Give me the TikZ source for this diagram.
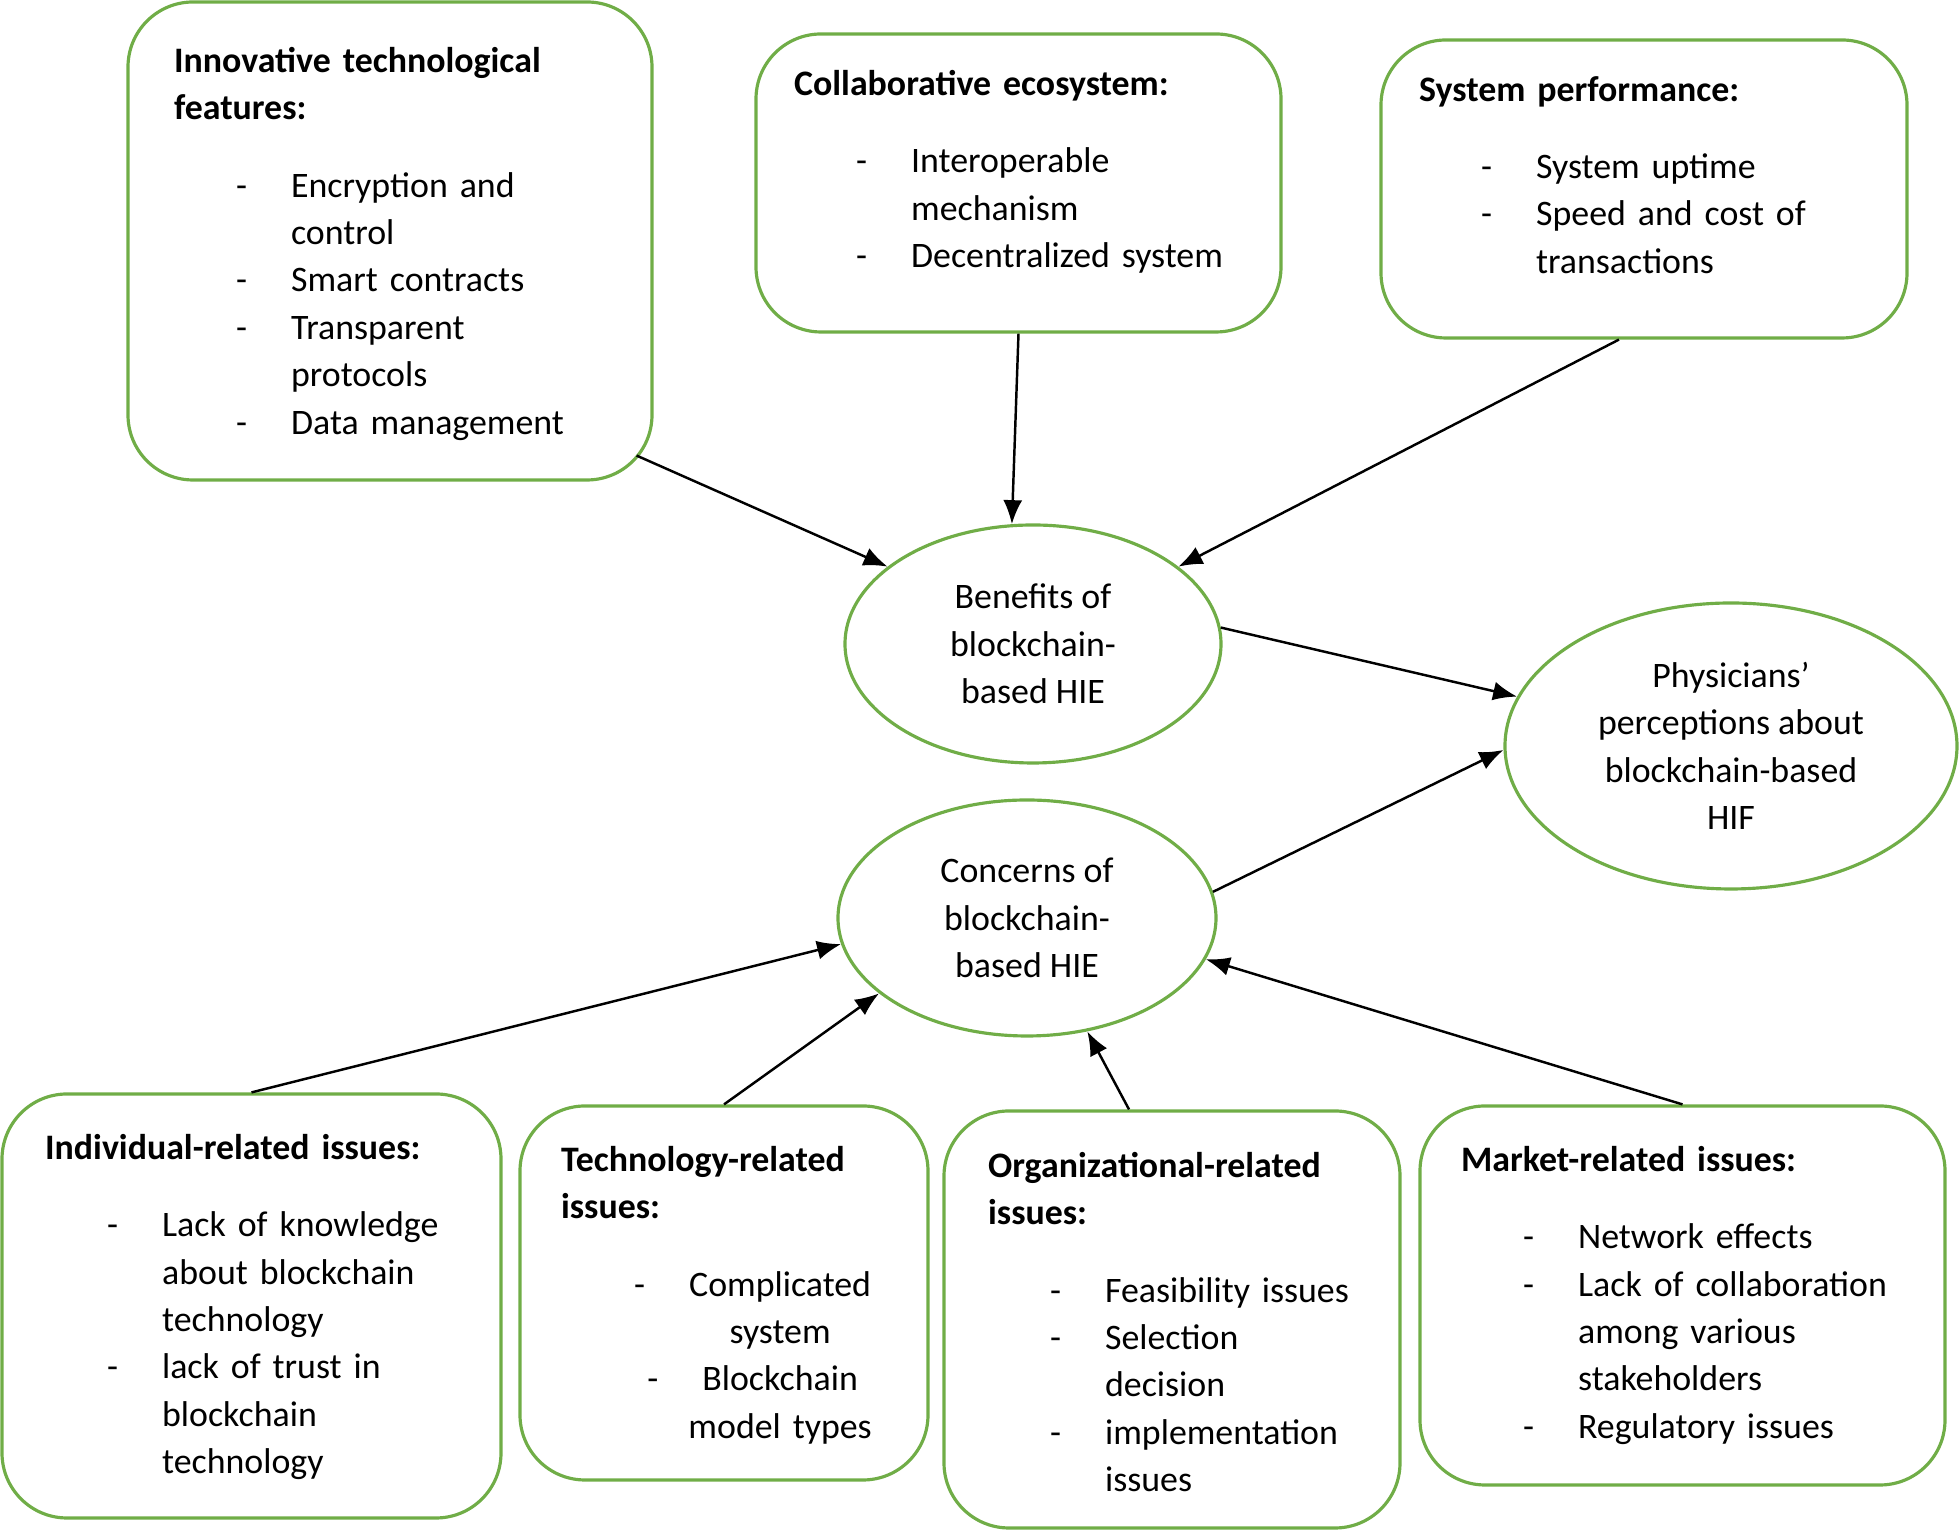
\documentclass[tikz,border=0pt]{standalone}
\usepackage{fontspec}
\setmainfont{Carlito}
\usetikzlibrary{shapes.geometric,arrows.meta}
\definecolor{leafgreen}{RGB}{112,173,71}
\newlength\itmskip
\setlength\itmskip{1.17cm}
\newcommand\hd[1]{\textbf{#1}\par\vspace{8.5pt}}
\newcommand\itm[1]{\par{\leftskip=\itmskip\noindent\llap{\makebox[0.55cm][l]{-}}#1\par}}
\newcommand\ctr[1]{\leavevmode\llap{\makebox[0.55cm][l]{-}}#1}
\begin{document}
\begin{tikzpicture}[font=\fontsize{10.2}{13.5}\selectfont,
    box/.style={draw=leafgreen, line width=0.9pt, rounded corners=0.65cm, inner sep=0pt},
    txt/.style={anchor=north west, inner sep=0pt, text width=#1, align=left},
    oval/.style={ellipse, draw=leafgreen, line width=0.9pt, inner sep=0pt, align=center},
    link/.style={-{Latex[length=2.4mm,width=1.9mm]}, line width=0.7pt}]
  \useasboundingbox (0,0) rectangle (19.59,15.30);

  \node[box, minimum width=5.24cm, minimum height=4.78cm] (innov) at (3.90,12.89) {};
  \node[txt=4.9cm] (innovtxt) at ([shift={(0.47,-0.46)}]innov.north west)
    {\hd{Innovative technological\\features:}\itm{Encryption and\\control}\itm{Smart contracts}\itm{Transparent\\protocols}\itm{Data management}};

  \node[box, minimum width=5.25cm, minimum height=2.98cm] (collab) at (10.185,13.47) {};
  \node[txt=4.8cm] (collabtxt) at ([shift={(0.39,-0.37)}]collab.north west)
    {\hd{Collaborative ecosystem:}\itm{Interoperable\\mechanism}\itm{Decentralized system}};

  \node[box, minimum width=5.26cm, minimum height=2.98cm] (perf) at (16.44,13.41) {};
  \node[txt=4.8cm] (perftxt) at ([shift={(0.39,-0.37)}]perf.north west)
    {\hd{System performance:}\itm{System uptime}\itm{Speed and cost of\\transactions}};

  \node[oval, minimum width=3.76cm, minimum height=2.38cm] (ben) at (10.33,8.86) {Benefits of\\blockchain-\\based HIE};
  \node[oval, minimum width=4.52cm, minimum height=2.86cm] (phys) at (17.31,7.84) {Physicians’\\perceptions about\\blockchain-based\\HIF};
  \node[oval, minimum width=3.78cm, minimum height=2.36cm] (conc) at (10.27,6.12) {Concerns of\\blockchain-\\based HIE};

  \node[box, minimum width=4.99cm, minimum height=4.24cm] (indiv) at (2.515,2.24) {};
  \node[txt=4.5cm] (indivtxt) at ([shift={(0.44,-0.41)}]indiv.north west)
    {\hd{Individual-related issues:}\itm{Lack of knowledge\\about blockchain\\technology}\itm{lack of trust in\\blockchain\\technology}};

  \node[box, minimum width=4.08cm, minimum height=3.74cm] (tech) at (7.24,2.37) {};
  \node[txt=4.38cm] (techtxt) at ([shift={(0.42,-0.41)}]tech.north west)
    {\hd{Technology-related\\issues:}{\centering\ctr{Complicated}\\system\\\ctr{Blockchain}\\model types\par}};

  \node[box, minimum width=4.56cm, minimum height=4.17cm] (org) at (11.72,2.105) {};
  \node[txt=4.1cm] (orgtxt) at ([shift={(0.45,-0.42)}]org.north west)
    {\hd{Organizational-related\\issues:}\itm{Feasibility issues}\itm{Selection\\decision}\itm{implementation\\issues}};

  \node[box, minimum width=5.25cm, minimum height=3.79cm] (mkt) at (16.825,2.345) {};
  \node[txt=4.8cm] (mkttxt) at ([shift={(0.42,-0.41)}]mkt.north west)
    {\hd{Market-related issues:}\itm{Network effects}\itm{Lack of collaboration\\among various\\stakeholders}\itm{Regulatory issues}};

  \draw[link] ([shift={(-0.17,0.26)}]innov.south east) -- (ben.152);
  \draw[link] (collab.south) -- (ben.100);
  \draw[link] ([xshift=-0.25cm]perf.south) -- (ben.28);
  \draw[link] (ben.5) -- (phys.167);
  \draw[link] (conc.8) -- (phys.181);
  \draw[link] (indiv.north) -- (conc.188);
  \draw[link] (tech.north) -- (conc.207);
  \draw[link] ([xshift=-0.43cm]org.north) -- (conc.298);
  \draw[link] (mkt.north) -- (conc.347);
\end{tikzpicture}
\end{document}
